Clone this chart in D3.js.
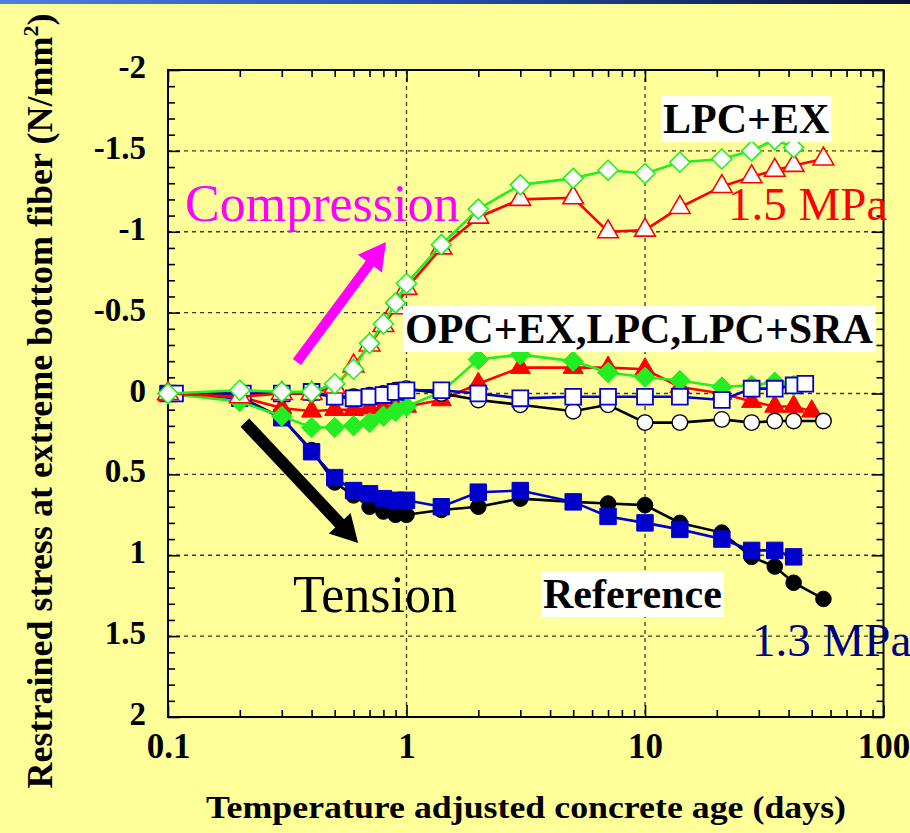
<!DOCTYPE html>
<html>
<head>
<meta charset="utf-8">
<script src="https://cdn.jsdelivr.net/npm/d3@7"></script>
<style>
  html, body { margin: 0; padding: 0; background: #FFFF99; }
  svg { display: block; }
</style>
</head>
<body>
<svg id="chart" width="910" height="833"></svg>
<script>
// ---------------- DATA ----------------
const xTickValues = [0.1, 1, 10, 100];
const xTickLabels = ["0.1", "1", "10", "100"];
const yTickValues = [-2, -1.5, -1, -0.5, 0, 0.5, 1, 1.5, 2];
const yTickLabels = ["-2", "-1.5", "-1", "-0.5", "0", "0.5", "1", "1.5", "2"];

// Reference (black filled circles)
const refAges   = [0.1,0.2,0.3,0.4,0.5,0.6,0.7,0.8,0.9,1,1.4,2,3,5,7,10,14,21,28,35,42,56];
const refStress = [0,0.02,0.15,0.35,0.55,0.63,0.70,0.73,0.75,0.75,0.72,0.70,0.65,0.67,0.68,0.69,0.80,0.86,1.01,1.07,1.17,1.27];

// Blue filled squares (1.3 MPa)
const bfsAges   = [0.1,0.2,0.3,0.4,0.5,0.6,0.7,0.8,0.9,1,1.4,2,3,5,7,10,14,21,28,35,42];
const bfsStress = [0,0.03,0.15,0.36,0.52,0.60,0.62,0.65,0.66,0.66,0.70,0.61,0.60,0.67,0.76,0.80,0.84,0.90,0.97,0.97,1.01];

// Red filled triangles
const rftAges   = [0.1,0.2,0.3,0.4,0.5,0.6,0.7,0.8,0.9,1,1.4,2,3,5,7,10,14,21,28,35,42,50];
const rftStress = [0.01,0.02,0.09,0.11,0.10,0.10,0.09,0.09,0.08,0.08,0.04,-0.06,-0.16,-0.16,-0.16,-0.15,-0.04,0.0,0.05,0.08,0.08,0.11];

// Green filled diamonds
const gfdAges   = [0.1,0.2,0.3,0.4,0.5,0.6,0.7,0.8,0.9,1,1.4,2,3,5,7,10,14,21,28,35,42];
const gfdStress = [0,0.05,0.14,0.21,0.21,0.20,0.18,0.14,0.11,0.08,-0.01,-0.21,-0.24,-0.20,-0.13,-0.10,-0.08,-0.04,-0.05,-0.07,-0.05];

// Open circles
const ocAges   = [0.1,0.2,0.3,0.4,0.5,0.6,0.7,0.8,0.9,1,1.4,2,3,5,7,10,14,21,28,35,42,56];
const ocStress = [0,0.0,0.0,0.0,0.02,0.02,0.01,0.0,-0.02,-0.03,0.0,0.04,0.07,0.11,0.07,0.18,0.18,0.16,0.18,0.17,0.17,0.17];

// Open squares
const osAges   = [0.107,0.206,0.3,0.4,0.5,0.6,0.7,0.8,0.9,1,1.4,2,3,5,7,10,14,21,28,35,42,47];
const osStress = [0,0,0,-0.01,0.02,0.03,0.02,0.01,-0.01,-0.02,-0.02,0.0,0.03,0.02,0.02,0.02,0.02,0.04,-0.03,-0.03,-0.05,-0.06];

// Red open triangles (LPC+EX, 1.5 MPa)
const rotAges   = [0.1,0.2,0.3,0.4,0.5,0.6,0.7,0.8,0.9,1,1.4,2,3,5,7,10,14,21,28,35,42,56];
const rotStress = [0,0.02,0.0,0.0,-0.04,-0.17,-0.30,-0.42,-0.53,-0.65,-0.90,-1.09,-1.20,-1.21,-1.00,-1.01,-1.15,-1.28,-1.34,-1.38,-1.41,-1.45];

// Green open diamonds (LPC+EX)
const godAges   = [0.1,0.2,0.3,0.4,0.5,0.6,0.7,0.8,0.9,1,1.4,2,3,5,7,10,14,21,28,35,42];
const godStress = [0,-0.02,-0.01,-0.01,-0.06,-0.15,-0.31,-0.43,-0.56,-0.68,-0.92,-1.14,-1.29,-1.33,-1.38,-1.36,-1.43,-1.45,-1.50,-1.57,-1.52];

// Annotation arrows in data coordinates [age, stress]
const compressionArrow = [[0.347, -0.195], [0.82, -0.937]];
const tensionArrow     = [[0.21, 0.18], [0.627, 0.924]];

// ---------------- CHART ----------------
const W = 910, H = 833;
const svg = d3.select("#chart");
const SERIF = "'Liberation Serif','Times New Roman',Times,serif";

// background
svg.append("rect").attr("width", W).attr("height", H).attr("fill", "#FFFF99");
const grad = svg.append("defs").append("linearGradient").attr("id", "topbar")
  .attr("x1", "0").attr("x2", "1").attr("y1", "0").attr("y2", "0");
grad.append("stop").attr("offset", "0").attr("stop-color", "#4a80dc");
grad.append("stop").attr("offset", "0.5").attr("stop-color", "#1f4fa8");
grad.append("stop").attr("offset", "1").attr("stop-color", "#0a1236");
svg.append("rect").attr("x", 0).attr("y", 0).attr("width", W).attr("height", 4).attr("fill", "url(#topbar)");

const x = d3.scaleLog().domain([0.1, 100]).range([168, 883.5]);
const y = d3.scaleLinear().domain([-2, 2]).range([70, 717]);
const [x0, x1] = x.range();
const [y0, y1] = y.range();

// grid (dashed)
const grid = svg.append("g").attr("stroke", "#3a3a2a").attr("stroke-width", 1.3).attr("stroke-dasharray", "4,4");
[1, 10].forEach(v => grid.append("line").attr("x1", x(v)).attr("x2", x(v)).attr("y1", y0).attr("y2", y1));
[-1.5, -1, -0.5, 0, 0.5, 1, 1.5].forEach(v => grid.append("line").attr("x1", x0).attr("x2", x1).attr("y1", y(v)).attr("y2", y(v)));

// axes with inward ticks on all four sides
const xMinor = [];
[0.1, 1, 10].forEach(d => { for (let k = 2; k <= 9; k++) xMinor.push(d * k); });
const yMinor = d3.range(-20, 21).map(v => v / 10).filter(v => Math.abs(v * 2 - Math.round(v * 2)) > 1e-6);

function axisG(axisGen, tx, ty) {
  const g = svg.append("g").attr("transform", `translate(${tx},${ty})`).call(axisGen);
  g.select(".domain").remove();
  g.selectAll("line").attr("stroke", "#000").attr("stroke-width", 1.6);
  g.selectAll("text").remove();
  return g;
}
axisG(d3.axisTop(x).tickValues(xMinor).tickSize(7), 0, y1);
axisG(d3.axisTop(x).tickValues(xTickValues).tickSize(12), 0, y1);
axisG(d3.axisBottom(x).tickValues(xMinor).tickSize(7), 0, y0);
axisG(d3.axisBottom(x).tickValues(xTickValues).tickSize(12), 0, y0);
axisG(d3.axisRight(y).tickValues(yMinor).tickSize(7), x0, 0);
axisG(d3.axisRight(y).tickValues(yTickValues).tickSize(12), x0, 0);
axisG(d3.axisLeft(y).tickValues(yMinor).tickSize(7), x1, 0);
axisG(d3.axisLeft(y).tickValues(yTickValues).tickSize(12), x1, 0);

// tick labels
const xAxisLab = svg.append("g").attr("transform", `translate(0,${y1})`)
  .call(d3.axisBottom(x).tickValues(xTickValues).tickSize(0).tickPadding(0).tickFormat((d, i) => xTickLabels[i]));
xAxisLab.select(".domain").remove();
xAxisLab.selectAll("text").attr("font-family", SERIF).attr("font-weight", "bold").attr("font-size", 35)
  .attr("fill", "#000").attr("dy", null).attr("y", 41);

const yAxisLab = svg.append("g").attr("transform", `translate(${x0},0)`)
  .call(d3.axisLeft(y).tickValues(yTickValues).tickSize(0).tickPadding(22).tickFormat((d, i) => yTickLabels[i]));
yAxisLab.select(".domain").remove();
yAxisLab.selectAll("text").attr("font-family", SERIF).attr("font-weight", "bold").attr("font-size", 33)
  .attr("fill", "#000").attr("dy", "0.23em");

// frame
svg.append("rect").attr("x", x0).attr("y", y0).attr("width", x1 - x0).attr("height", y1 - y0)
  .attr("fill", "none").attr("stroke", "#000").attr("stroke-width", 2);

// axis titles
svg.append("text").attr("x", 526).attr("y", 818).attr("text-anchor", "middle")
  .attr("font-family", SERIF).attr("font-weight", "bold").attr("font-size", 32)
  .attr("textLength", 640).attr("lengthAdjust", "spacingAndGlyphs")
  .text("Temperature adjusted concrete age (days)");

const yl = svg.append("text").attr("transform", "translate(52,401) rotate(-90)").attr("text-anchor", "middle")
  .attr("font-family", SERIF).attr("font-weight", "bold").attr("font-size", 36);
yl.append("tspan").text("Restrained stress at extreme bottom fiber (N/mm");
yl.append("tspan").attr("font-size", 22).attr("dy", -14).text("2");
yl.append("tspan").attr("dy", 14).text(")");

// arrows
function arrow(pts, color, shaftW, headW, headL) {
  const [p, q] = pts.map(d => [x(d[0]), y(d[1])]);
  const dx = q[0] - p[0], dy = q[1] - p[1];
  const L = Math.hypot(dx, dy), ux = dx / L, uy = dy / L, nx = -uy, ny = ux;
  const bx = q[0] - ux * headL, by = q[1] - uy * headL;
  const poly = [
    [p[0] + nx * shaftW / 2, p[1] + ny * shaftW / 2],
    [bx + nx * shaftW / 2, by + ny * shaftW / 2],
    [bx + nx * headW / 2, by + ny * headW / 2],
    q,
    [bx - nx * headW / 2, by - ny * headW / 2],
    [bx - nx * shaftW / 2, by - ny * shaftW / 2],
    [p[0] - nx * shaftW / 2, p[1] - ny * shaftW / 2]
  ];
  svg.append("path").attr("d", d3.line()(poly) + "Z").attr("fill", color);
}
arrow(compressionArrow, "#FF00FF", 10, 30, 27);
arrow(tensionArrow, "#000000", 12, 30, 27);

// square diamond symbol (rotated square)
const symbolSqDiamond = {
  draw(ctx, size) {
    const r = Math.sqrt(size / 2);
    ctx.moveTo(0, -r); ctx.lineTo(r, 0); ctx.lineTo(0, r); ctx.lineTo(-r, 0); ctx.closePath();
  }
};

// series
const lineGen = d3.line().x(d => x(d[0])).y(d => y(d[1]));
const zip = (a, b) => a.map((v, i) => [v, b[i]]);

const series = [
  { ages: refAges, vals: refStress, line: "#000000", sym: d3.symbolCircle, size: 190, fill: "#000000", stroke: "#000000", sw: 1 },
  { ages: bfsAges, vals: bfsStress, line: "#0000CC", sym: d3.symbolSquare, size: 270, fill: "#0000CC", stroke: "#0000CC", sw: 1 },
  { ages: rftAges, vals: rftStress, line: "#FF0000", sym: d3.symbolTriangle, size: 175, fill: "#FF0000", stroke: "#FF0000", sw: 1 },
  { ages: gfdAges, vals: gfdStress, line: "#22EE22", sym: symbolSqDiamond, size: 210, fill: "#22EE22", stroke: "#22EE22", sw: 1 },
  { ages: ocAges, vals: ocStress, line: "#000000", sym: d3.symbolCircle, size: 190, fill: "#FFFFFF", stroke: "#000000", sw: 1.4 },
  { ages: osAges, vals: osStress, line: "#0000CC", sym: d3.symbolSquare, size: 250, fill: "#FFFFFF", stroke: "#0000CC", sw: 1.8 },
  { ages: rotAges, vals: rotStress, line: "#FF0000", sym: d3.symbolTriangle, size: 185, fill: "#FFFFFF", stroke: "#FF0000", sw: 1.6 },
  { ages: godAges, vals: godStress, line: "#22EE22", sym: symbolSqDiamond, size: 200, fill: "#FFFFFF", stroke: "#22EE22", sw: 1.6 }
];

series.forEach(s => {
  const data = zip(s.ages, s.vals);
  const g = svg.append("g");
  g.append("path").attr("d", lineGen(data)).attr("fill", "none").attr("stroke", s.line).attr("stroke-width", 2.6);
  g.selectAll("path.m").data(data).join("path").attr("class", "m")
    .attr("transform", d => `translate(${x(d[0])},${y(d[1])})`)
    .attr("d", d3.symbol().type(s.sym).size(s.size))
    .attr("fill", s.fill).attr("stroke", s.stroke).attr("stroke-width", s.sw);
});

// annotation texts
function boxedText(txt, tx, ty, fs) {
  const g = svg.append("g");
  const r = g.append("rect").attr("fill", "#FFFFFF");
  const t = g.append("text").attr("x", tx).attr("y", ty).attr("font-family", SERIF)
    .attr("font-weight", "bold").attr("font-size", fs).attr("fill", "#000").text(txt);
  const b = t.node().getBBox();
  r.attr("x", b.x - 2).attr("y", b.y).attr("width", b.width + 4).attr("height", b.height);
}
boxedText("LPC+EX", 663, 133, 42);
boxedText("OPC+EX,LPC,LPC+SRA", 405, 343, 42);
boxedText("Reference", 543, 608, 42);

function plainText(txt, tx, ty, fs, color) {
  svg.append("text").attr("x", tx).attr("y", ty).attr("font-family", SERIF)
    .attr("font-size", fs).attr("fill", color).text(txt);
}
plainText("Compression", 185, 221, 52, "#FF00FF");
plainText("Tension", 293, 612, 52, "#000000");
plainText("1.5 MPa", 728, 220, 47, "#FF0000");
plainText("1.3 MPa", 752, 656, 47, "#000080");
</script>
</body>
</html>
